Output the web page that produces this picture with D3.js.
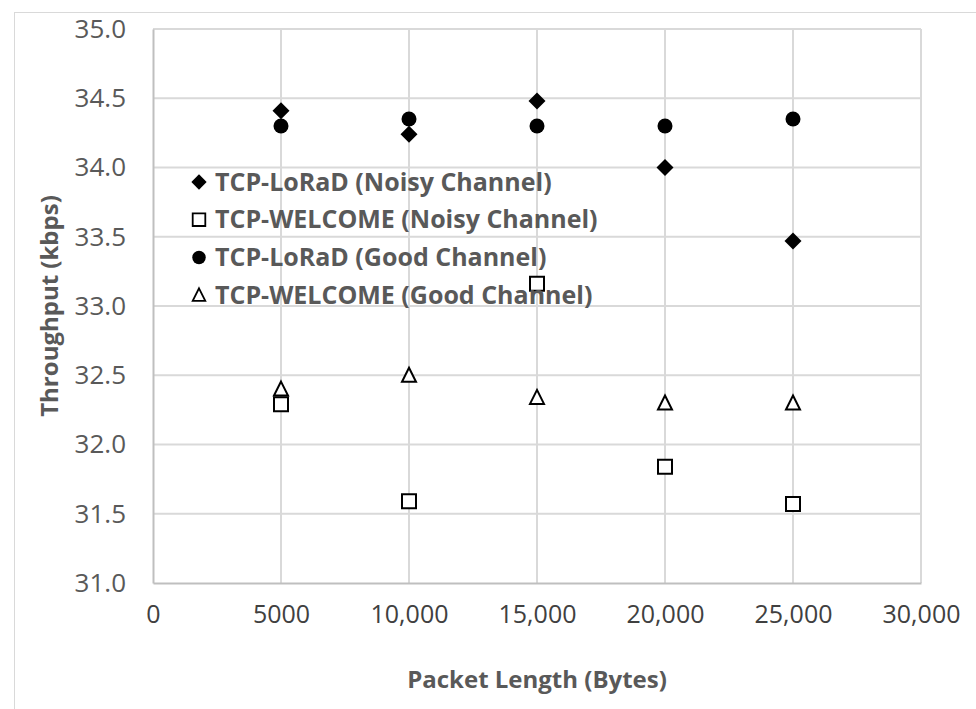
<!DOCTYPE html>
<html>
<head>
<meta charset="utf-8">
<script src="https://cdn.jsdelivr.net/npm/d3@7"></script>
<style>
  html, body { margin: 0; padding: 0; background: #fff; }
  text { font-family: "Open Sans", sans-serif; fill: #595959; }
</style>
</head>
<body>
<div class="graph"></div>
<script>
// packet lengths (bytes)
const packetLengths = [5000, 10000, 15000, 20000, 25000];

// throughput (kbps)
const loradNoisy   = [34.41, 34.24, 34.48, 34.00, 33.47];
const welcomeNoisy = [32.29, 31.59, 33.16, 31.84, 31.57];
const loradGood    = [34.30, 34.35, 34.30, 34.30, 34.35];
const welcomeGood  = [32.40, 32.50, 32.34, 32.30, 32.30];

const seriesNames = [
  "TCP-LoRaD (Noisy Channel)",
  "TCP-WELCOME (Noisy Channel)",
  "TCP-LoRaD (Good Channel)",
  "TCP-WELCOME (Good Channel)"
];

const xTicks = [0, 5000, 10000, 15000, 20000, 25000, 30000];
const yTicks = [31.0, 31.5, 32.0, 32.5, 33.0, 33.5, 34.0, 34.5, 35.0];

const W = 976, H = 709;
const margin = {top: 29, right: 55, bottom: 126, left: 153};

const svg = d3.select(".graph").append("svg")
  .attr("width", W)
  .attr("height", H);

// chart frame (cut off on the right and bottom like the original)
svg.append("rect")
  .attr("x", 14.5).attr("y", 12.5)
  .attr("width", W).attr("height", H)
  .attr("fill", "none")
  .attr("stroke", "#d9d9d9");

const x = d3.scaleLinear().domain([0, 30000]).range([margin.left, W - margin.right]);
const y = d3.scaleLinear().domain([31, 35]).range([H - margin.bottom, margin.top]);

// gridlines
svg.append("g").selectAll("line")
  .data(yTicks.slice(1))
  .enter().append("line")
    .attr("x1", x(0)).attr("x2", x(30000))
    .attr("y1", d => y(d)).attr("y2", d => y(d))
    .attr("stroke", "#d9d9d9").attr("stroke-width", 2);

svg.append("g").selectAll("line")
  .data(xTicks.slice(1))
  .enter().append("line")
    .attr("x1", d => x(d)).attr("x2", d => x(d))
    .attr("y1", y(31)).attr("y2", y(35))
    .attr("stroke", "#d9d9d9").attr("stroke-width", 2);

// axes
const xAxis = d3.axisBottom(x)
  .tickValues(xTicks)
  .tickSize(0)
  .tickPadding(22)
  .tickFormat(d => d === 5000 ? "5000" : d3.format(",")(d));

const yAxis = d3.axisLeft(y)
  .tickValues(yTicks)
  .tickSize(0)
  .tickPadding(27)
  .tickFormat(d3.format(".1f"));

const gx = svg.append("g")
  .attr("transform", "translate(0," + y(31) + ")")
  .call(xAxis);
gx.select(".domain").attr("stroke", "#bfbfbf").attr("stroke-width", 2);
gx.selectAll("text").attr("font-size", 25).style("fill", "#404040");

const gy = svg.append("g")
  .attr("transform", "translate(" + x(0) + ",0)")
  .call(yAxis);
gy.select(".domain").attr("stroke", "#bfbfbf").attr("stroke-width", 2);
gy.selectAll("text").attr("font-size", 26);

// axis titles
svg.append("text")
  .attr("x", (x(0) + x(30000)) / 2)
  .attr("y", 680)
  .attr("dy", "0.35em")
  .attr("text-anchor", "middle")
  .attr("font-size", 24)
  .attr("font-weight", "bold")
  .text("Packet Length (Bytes)");

svg.append("text")
  .attr("transform", "translate(50," + ((y(31) + y(35)) / 2) + ") rotate(-90)")
  .attr("dy", "0.35em")
  .attr("text-anchor", "middle")
  .attr("font-size", 24)
  .attr("font-weight", "bold")
  .text("Throughput (kbps)");

// marker shapes
const shapes = [
  {path: "M0,-8.5L8.5,0L0,8.5L-8.5,0Z", fill: "#000", stroke: "none"},
  {path: "M-7,-7H7V7H-7Z", fill: "#fff", stroke: "#000"},
  {path: "M7.5,0A7.5,7.5 0 1 1 -7.5,0A7.5,7.5 0 1 1 7.5,0Z", fill: "#000", stroke: "none"},
  {path: "M0,-7.5L7,6.5H-7Z", fill: "#fff", stroke: "#000"}
];

const seriesValues = [loradNoisy, welcomeNoisy, loradGood, welcomeGood];
const series = seriesValues.map((vals, i) => ({
  name: seriesNames[i],
  shape: shapes[i],
  values: packetLengths.map((p, j) => ({x: p, y: vals[j]}))
}));

const groups = svg.append("g").selectAll("g")
  .data(series)
  .enter().append("g");

groups.selectAll("path")
  .data(d => d.values.map(v => Object.assign({shape: d.shape}, v)))
  .enter().append("path")
    .attr("transform", d => "translate(" + x(d.x) + "," + y(d.y) + ")")
    .attr("d", d => d.shape.path)
    .attr("fill", d => d.shape.fill)
    .attr("stroke", d => d.shape.stroke)
    .attr("stroke-width", 2);

// legend
const legend = svg.append("g")
  .attr("transform", "translate(199,182)");

const items = legend.selectAll("g")
  .data(series)
  .enter().append("g")
    .attr("transform", (d, i) => "translate(0," + (i * 37.7) + ")");

items.append("path")
  .attr("d", d => d.shape.path)
  .attr("transform", "scale(0.9)")
  .attr("fill", d => d.shape.fill)
  .attr("stroke", d => d.shape.stroke)
  .attr("stroke-width", 2);

items.append("text")
  .attr("x", 16)
  .attr("dy", "0.35em")
  .attr("font-size", 25)
  .attr("font-weight", "bold")
  .text(d => d.name);
</script>
</body>
</html>
